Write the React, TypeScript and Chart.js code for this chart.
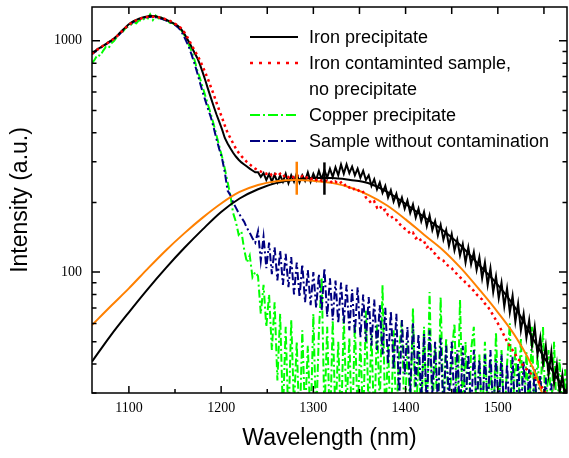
import React, { useEffect, useRef } from 'react';
import { Chart, registerables } from 'chart.js';

Chart.register(...registerables);

// Measured spectra: first wavelength and sampling step (nm)
const WL_START = 1060;
const WL_STEP = 3;

// Iron precipitate (black, solid)
const IRON_PRECIP = [
  880, 900, 920, 935, 950, 968, 988, 1005, 1025, 1050,
  1080, 1110, 1140, 1170, 1195, 1215, 1232, 1247, 1258, 1268,
  1275, 1282, 1280, 1276, 1268, 1258, 1245, 1230, 1214, 1198,
  1180, 1160, 1130, 1090, 1040, 990, 940, 890, 845, 790,
  730, 672, 615, 565, 520, 480, 446, 414, 380, 360,
  343, 328, 316, 306, 298, 292, 286, 280, 275, 270,
  270, 258, 268, 250, 265, 246, 264, 244, 262, 246,
  266, 242, 262, 246, 268, 244, 262, 248, 270, 246,
  266, 250, 274, 252, 276, 256, 280, 258, 284, 262,
  292, 266, 292, 268, 286, 262, 280, 256, 274, 250,
  262, 236, 252, 228, 244, 220, 236, 210, 226, 202,
  218, 194, 210, 188, 204, 180, 196, 172, 188, 166,
  182, 158, 176, 152, 166, 144, 160, 138, 152, 130,
  146, 124, 138, 118, 132, 110, 128, 108, 122, 102,
  116, 94, 110, 88, 104, 82, 96, 77, 90, 71,
  85, 67, 79, 61, 73, 56, 66, 52, 62, 48,
  58, 44, 52, 40, 48, 36, 45, 33, 40, 30,
  36, 28, 32,
];

// Iron contaminated sample, no precipitate (red, dotted)
const IRON_CONTAM = [
  878, 898, 918, 935, 952, 968, 985, 1002, 1022, 1045,
  1075, 1105, 1135, 1163, 1188, 1208, 1226, 1240, 1252, 1262,
  1268, 1272, 1272, 1270, 1264, 1256, 1246, 1236, 1222, 1206,
  1185, 1165, 1140, 1105, 1060, 1010, 960, 912, 868, 825,
  775, 725, 678, 630, 585, 540, 500, 465, 430, 400,
  380, 360, 342, 328, 317, 308, 299, 292, 286, 280,
  275, 272, 268, 266, 270, 262, 268, 260, 266, 258,
  264, 257, 262, 256, 263, 255, 260, 254, 258, 252,
  256, 250, 254, 248, 252, 246, 248, 242, 246, 240,
  244, 236, 240, 232, 234, 226, 228, 220, 222, 210,
  205, 198, 202, 190, 194, 184, 186, 176, 176, 168,
  168, 162, 158, 154, 152, 146, 148, 140, 142, 136,
  136, 128, 130, 122, 120, 116, 113, 112, 108, 106,
  104, 100, 98, 95, 93, 90, 88, 85, 83, 80,
  78, 76, 73, 71, 68, 65, 62, 59, 56, 53,
  50, 48, 46, 44, 42, 41, 39, 38, 37, 36,
  35, 34, 33, 31, 30, 29, 28, 27, 26, 25,
  25, 24, 24,
];

// Copper precipitate (green, dash-dot)
const COPPER_PRECIP = [
  800, 830, 870, 860, 905, 940, 930, 975, 1000, 1040,
  1070, 1090, 1130, 1150, 1170, 1200, 1190, 1230, 1215, 1250,
  1240, 1300, 1230, 1285, 1250, 1260, 1230, 1240, 1200, 1195,
  1170, 1150, 1120, 1080, 1020, 960, 900, 830, 750, 690,
  630, 575, 525, 480, 435, 390, 350, 315, 280, 245,
  215, 180, 165, 145, 150, 125, 110, 118, 95, 100,
  96, 66, 88, 58, 80, 46, 74, 34, 66, 24,
  58, 22, 62, 26, 50, 20, 56, 24, 48, 21,
  66, 22, 55, 95, 24, 58, 20, 62, 23, 50,
  21, 64, 25, 52, 20, 60, 24, 50, 22, 68,
  24, 54, 21, 60, 26, 88, 22, 48, 20, 56,
  22, 46, 62, 21, 50, 25, 70, 20, 46, 23,
  58, 21, 82, 24, 48, 20, 78, 25, 52, 21,
  44, 60, 22, 76, 24, 50, 20, 46, 58, 23,
  44, 21, 50, 25, 42, 20, 55, 24, 46, 21,
  40, 60, 22, 48, 25, 52, 20, 45, 24, 58,
  22, 44, 26, 58, 21, 46, 25, 50, 22, 42,
  24, 38, 22,
];

// Sample without contamination (navy, dash-dot)
const CLEAN_SAMPLE = [
  875, 895, 915, 930, 948, 965, 982, 1000, 1018, 1040,
  1070, 1100, 1130, 1160, 1185, 1205, 1222, 1238, 1250, 1260,
  1266, 1270, 1268, 1264, 1256, 1246, 1234, 1220, 1204, 1188,
  1170, 1145, 1110, 1060, 1000, 940, 870, 800, 730, 660,
  600, 550, 505, 465, 420, 375, 340, 310, 270, 225,
  215, 200, 190, 180, 172, 165, 155, 148, 140, 134,
  150, 112, 142, 104, 134, 98, 128, 92, 124, 88,
  120, 86, 116, 80, 110, 78, 108, 74, 102, 72,
  100, 70, 98, 68, 104, 64, 94, 62, 92, 60,
  90, 60, 88, 56, 84, 54, 86, 52, 80, 50,
  78, 48, 76, 46, 72, 44, 70, 40, 68, 38,
  66, 28, 62, 36, 58, 30, 60, 32, 54, 28,
  54, 26, 56, 30, 50, 27, 52, 25, 48, 28,
  50, 26, 46, 24, 48, 27, 44, 25, 46, 26,
  42, 24, 44, 26, 46, 24, 42, 26, 44, 23,
  40, 24, 43, 22, 40, 25, 41, 23, 38, 24,
  38, 22, 36, 23, 35, 21, 33, 20, 29, 20,
  26, 20, 20,
];

// Smooth fit to the iron precipitate spectrum (black)
const FIT_IRON_WL = [1060, 1080, 1100, 1120, 1140, 1160, 1180, 1200, 1220, 1240, 1260, 1280, 1300, 1320, 1340, 1360, 1380, 1400, 1420, 1440, 1460, 1480, 1500, 1520, 1540, 1560, 1575];
const FIT_IRON = [41, 53, 67, 84, 104, 127, 153, 182, 208, 228, 243, 251, 255, 255, 250, 242, 222, 197, 173, 152, 130, 107, 88, 69, 50, 37, 30];

// Smooth fit to the iron contaminated sample (orange)
const FIT_CONTAM_WL = [1060, 1080, 1100, 1120, 1140, 1160, 1180, 1200, 1220, 1240, 1260, 1280, 1300, 1320, 1340, 1360, 1380, 1400, 1420, 1440, 1460, 1480, 1500, 1520, 1540, 1548];
const FIT_CONTAM = [59, 71, 85, 103, 124, 147, 172, 198, 222, 238, 247, 250, 248, 243, 232, 215, 194, 169, 145, 125, 104, 84, 67, 52, 37, 30];

// Peak position markers (wavelength, lower and upper intensity)
const MARK_CONTAM = [1282, 216, 300];
const MARK_IRON = [1312, 216, 298];

const X_MIN = 1060;
const X_MAX = 1575;
const Y_MIN = 30;
const Y_MAX = 1400;
const X_TICKS = [1100, 1150, 1200, 1250, 1300, 1350, 1400, 1450, 1500, 1550];
const X_LABELED = [1100, 1200, 1300, 1400, 1500];
const Y_TICKS = [30, 40, 50, 60, 70, 80, 90, 100, 200, 300, 400, 500, 600, 700, 800, 900, 1000];
const Y_LABELED = [100, 1000];

const LEGEND_ITEMS = [
  { lines: ['Iron precipitate'], color: '#000000', dash: [] as number[], width: 2 },
  { lines: ['Iron contaminted sample,', 'no precipitate'], color: '#ff0000', dash: [3, 6], width: 2.5 },
  { lines: ['Copper precipitate'], color: '#00ff00', dash: [10, 3, 2, 3], width: 2 },
  { lines: ['Sample without contamination'], color: '#000080', dash: [10, 3, 2, 3], width: 2 },
];

const SANS = "'Liberation Sans', Arial, Helvetica, sans-serif";
const SERIF = "'Liberation Serif', 'Times New Roman', serif";

const toPoints = (vals: number[]) => vals.map((v, i) => ({ x: WL_START + i * WL_STEP, y: v }));
const pairPoints = (wl: number[], vals: number[]) => vals.map((v, i) => ({ x: wl[i], y: v }));
const markerPoints = (m: number[]) => [{ x: m[0], y: m[1] }, { x: m[0], y: m[2] }];

const framePlugin = {
  id: 'frameTicks',
  afterDatasetsDraw(chart: any) {
    const { ctx, chartArea: a, scales } = chart;
    const xs = scales.x;
    const ys = scales.y;
    ctx.save();
    ctx.strokeStyle = '#000';
    ctx.lineWidth = 1.5;
    ctx.setLineDash([]);
    ctx.strokeRect(a.left, a.top, a.right - a.left, a.bottom - a.top);
    ctx.beginPath();
    X_TICKS.forEach((v) => {
      const px = xs.getPixelForValue(v);
      const major = X_LABELED.includes(v);
      ctx.moveTo(px, a.bottom);
      ctx.lineTo(px, a.bottom - (major ? 7 : 4));
      ctx.moveTo(px, a.top);
      ctx.lineTo(px, a.top + 7);
    });
    Y_TICKS.forEach((v) => {
      const py = ys.getPixelForValue(v);
      const major = Y_LABELED.includes(v);
      const len = major ? 8 : 4.5;
      ctx.moveTo(a.left, py);
      ctx.lineTo(a.left + len, py);
      ctx.moveTo(a.right, py);
      ctx.lineTo(a.right - len, py);
    });
    ctx.stroke();
    ctx.restore();
  },
  afterDraw(chart: any) {
    const { ctx } = chart;
    ctx.save();
    ctx.font = `18px ${SANS}`;
    ctx.fillStyle = '#000';
    ctx.textBaseline = 'middle';
    ctx.textAlign = 'left';
    const rowY = [37, 63, 115, 141];
    const lineH = 26;
    LEGEND_ITEMS.forEach((item, i) => {
      const y = rowY[i];
      ctx.beginPath();
      ctx.strokeStyle = item.color;
      ctx.lineWidth = item.width;
      ctx.setLineDash(item.dash);
      ctx.moveTo(250, y);
      ctx.lineTo(298, y);
      ctx.stroke();
      ctx.setLineDash([]);
      item.lines.forEach((t, j) => ctx.fillText(t, 309, y + 1 + j * lineH));
    });
    ctx.restore();
  },
};

export default function App() {
  const ref = useRef<HTMLCanvasElement | null>(null);

  useEffect(() => {
    if (!ref.current) return;
    const common = { pointRadius: 0, fill: false, clip: 0 as any };
    const chart = new Chart(ref.current, {
      type: 'line',
      data: {
        datasets: [
          { ...common, data: markerPoints(MARK_CONTAM), borderColor: '#ff8000', borderWidth: 2.5, order: 0 },
          { ...common, data: markerPoints(MARK_IRON), borderColor: '#000000', borderWidth: 2.5, order: 0 },
          { ...common, label: 'Iron contaminted sample, no precipitate', data: toPoints(IRON_CONTAM), borderColor: '#ff0000', borderWidth: 2.5, borderDash: [2.5, 3.5], order: 1 },
          { ...common, label: 'fit contaminated', data: pairPoints(FIT_CONTAM_WL, FIT_CONTAM), borderColor: '#ff8000', borderWidth: 2, cubicInterpolationMode: 'monotone', order: 2 },
          { ...common, label: 'fit iron', data: pairPoints(FIT_IRON_WL, FIT_IRON), borderColor: '#000000', borderWidth: 2, cubicInterpolationMode: 'monotone', order: 3 },
          { ...common, label: 'Iron precipitate', data: toPoints(IRON_PRECIP), borderColor: '#000000', borderWidth: 2, order: 4 },
          { ...common, label: 'Sample without contamination', data: toPoints(CLEAN_SAMPLE), borderColor: '#000080', borderWidth: 2, borderDash: [8, 3, 2, 3], order: 5 },
          { ...common, label: 'Copper precipitate', data: toPoints(COPPER_PRECIP), borderColor: '#00ff00', borderWidth: 2, borderDash: [8, 3, 2, 3], order: 6 },
        ],
      },
      options: {
        responsive: false,
        animation: false,
        events: [],
        layout: { padding: { left: 0, right: 2, top: 7, bottom: 0 } },
        plugins: { legend: { display: false }, tooltip: { enabled: false } },
        scales: {
          x: {
            type: 'linear',
            min: X_MIN,
            max: X_MAX,
            grid: { display: false, drawTicks: false },
            border: { display: false },
            afterBuildTicks: (s: any) => { s.ticks = X_TICKS.map((value) => ({ value })); },
            afterFit: (s: any) => { s.height = 65; s.paddingLeft = 0; s.paddingRight = 0; },
            ticks: {
              autoSkip: false,
              maxRotation: 0,
              padding: 7,
              color: '#000',
              font: { family: SERIF, size: 14 },
              callback: (v: any) => (X_LABELED.includes(Number(v)) ? String(v) : ''),
            },
            title: {
              display: true,
              text: 'Wavelength (nm)',
              color: '#000',
              font: { family: SANS, size: 23 },
              padding: { top: 0, bottom: 6 },
            },
          },
          y: {
            type: 'logarithmic',
            min: Y_MIN,
            max: Y_MAX,
            grid: { display: false, drawTicks: false },
            border: { display: false },
            afterBuildTicks: (s: any) => { s.ticks = Y_TICKS.map((value) => ({ value })); },
            afterFit: (s: any) => { s.width = 92; s.paddingTop = 0; s.paddingBottom = 0; },
            ticks: {
              autoSkip: false,
              padding: 10,
              color: '#000',
              font: { family: SERIF, size: 14 },
              callback: (v: any) => (Y_LABELED.includes(Number(v)) ? String(v) : ''),
            },
            title: {
              display: true,
              text: 'Intensity (a.u.)',
              color: '#000',
              font: { family: SANS, size: 23 },
              padding: { top: 7, bottom: 0 },
            },
          },
        },
      } as any,
      plugins: [framePlugin],
    });
    return () => chart.destroy();
  }, []);

  return (
    <div style={{ position: 'absolute', left: 0, top: 0, width: 569, height: 458, background: '#fff' }}>
      <canvas ref={ref} width={569} height={458} style={{ display: 'block' }} />
    </div>
  );
}
